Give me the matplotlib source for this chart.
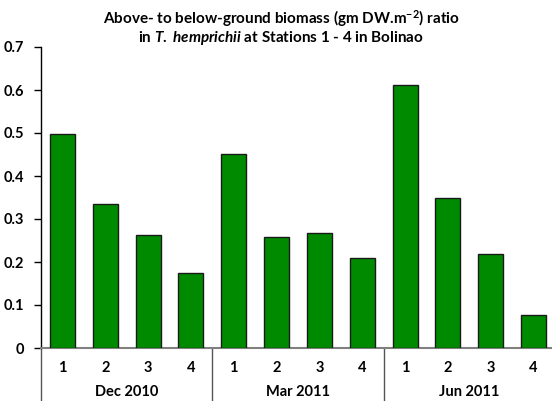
import matplotlib
matplotlib.use("Agg")
import matplotlib.pyplot as plt
import numpy as np

groups = ["Dec 2010", "Mar 2011", "Jun 2011"]
stations = ["1", "2", "3", "4"]
values = {
    "Dec 2010": [0.497, 0.334, 0.262, 0.175],
    "Mar 2011": [0.451, 0.259, 0.268, 0.210],
    "Jun 2011": [0.611, 0.349, 0.219, 0.077],
}
yticks = [0, 0.1, 0.2, 0.3, 0.4, 0.5, 0.6, 0.7]

plt.rcParams['font.family'] = ['Lato', 'DejaVu Sans']
plt.rcParams['mathtext.fontset'] = 'custom'
plt.rcParams['mathtext.rm'] = 'Lato:bold'
plt.rcParams['mathtext.bf'] = 'Lato:bold'
plt.rcParams['mathtext.it'] = 'Lato:bold:italic'

fig = plt.figure(figsize=(5.52, 4.01), dpi=100)
ax = fig.add_axes([41/552, 1-348/401, (555-41)/552, (348-47)/401])

n = len(stations)
xs = []
hs = []
for gi, g in enumerate(groups):
    for si in range(n):
        xs.append(gi*n + si + 0.5)
        hs.append(values[g][si])
ax.bar(xs, hs, width=0.58, color='#008a00', edgecolor='#1a1a1a', linewidth=1.0, zorder=3)

ax.set_xlim(0, len(groups)*n)
ax.set_ylim(0, 0.7)
ax.set_yticks(yticks)
ax.set_yticklabels(["0" if v == 0 else f"{v:.1f}" for v in yticks], fontweight='bold', fontsize=10.5)
ax.tick_params(axis='y', direction='out', length=5, width=1, pad=7)
ax.tick_params(axis='x', length=0, labelbottom=False)
for s in ['top', 'right']:
    ax.spines[s].set_visible(False)
ax.spines['left'].set_linewidth(1)
ax.spines['bottom'].set_color('#808080')
ax.spines['bottom'].set_linewidth(1.5)

trans = ax.get_xaxis_transform()
ybot = -(401-348)/(348-47)
for gi in range(len(groups)+1):
    ax.plot([gi*n, gi*n], [0, ybot], transform=trans, color='#555555', lw=1, clip_on=False)
for gi, g in enumerate(groups):
    for si, s in enumerate(stations):
        ax.text(gi*n + si + 0.5, -(368-348)/(348-47), s, transform=trans, ha='center', va='center',
                fontweight='bold', fontsize=10.5)
    ax.text(gi*n + n/2, -(392-348)/(348-47), g, transform=trans, ha='center', va='center',
            fontweight='bold', fontsize=10.5)

fig.text(281/552, 1-19/401, r"Above- to below-ground biomass (gm DW.m$^{-2}$) ratio",
         ha='center', va='center', fontweight='bold', fontsize=11)
fig.text(281/552, 1-38/401, r"in $\mathit{T.}$ $\mathit{hemprichii}$ at Stations 1 - 4 in Bolinao",
         ha='center', va='center', fontweight='bold', fontsize=11)

fig.savefig("out.png", dpi=100)
